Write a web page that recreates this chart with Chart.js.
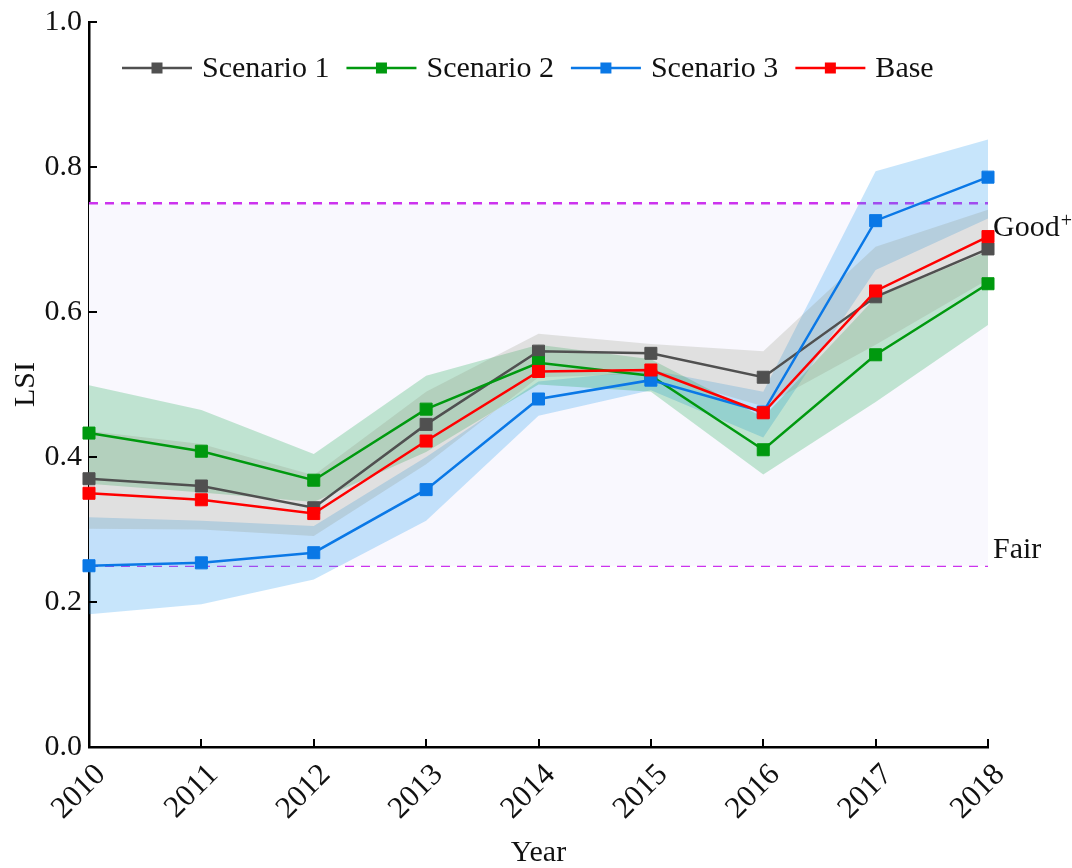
<!DOCTYPE html>
<html>
<head>
<meta charset="utf-8">
<title>LSI scenarios</title>
<script src="https://cdn.jsdelivr.net/npm/chart.js@4.4.1/dist/chart.umd.min.js"></script>
<style>
  html, body { margin: 0; padding: 0; background: #fff; }
</style>
</head>
<body>
<canvas id="lsiChart" width="1072" height="868"></canvas>
<script>
'use strict';

// --- data ---
const YEARS = ['2010', '2011', '2012', '2013', '2014', '2015', '2016', '2017', '2018'];

const SCENARIO1 = [0.370, 0.360, 0.330, 0.445, 0.546, 0.543, 0.510, 0.621, 0.687];
const SCENARIO2 = [0.433, 0.408, 0.368, 0.466, 0.530, 0.512, 0.410, 0.541, 0.639];
const SCENARIO3 = [0.250, 0.254, 0.268, 0.355, 0.480, 0.506, 0.462, 0.726, 0.786];
const BASE      = [0.350, 0.341, 0.322, 0.422, 0.518, 0.520, 0.461, 0.629, 0.704];

// uncertainty bands
const S1_UPPER = [0.436, 0.418, 0.375, 0.490, 0.570, 0.556, 0.546, 0.690, 0.741];
const S1_LOWER = [0.301, 0.300, 0.291, 0.390, 0.510, 0.515, 0.470, 0.555, 0.645];
const S2_UPPER = [0.499, 0.465, 0.404, 0.512, 0.555, 0.535, 0.455, 0.620, 0.684];
const S2_LOWER = [0.363, 0.351, 0.338, 0.407, 0.500, 0.490, 0.376, 0.476, 0.582];
const S3_UPPER = [0.317, 0.312, 0.305, 0.400, 0.504, 0.520, 0.490, 0.794, 0.838];
const S3_LOWER = [0.183, 0.197, 0.231, 0.312, 0.457, 0.492, 0.427, 0.658, 0.729];

const GOOD_LEVEL = 0.75;
const FAIR_LEVEL = 0.25;
const Y_TICKS = [0, 0.2, 0.4, 0.6, 0.8, 1.0];

const SERIF = '"Liberation Serif", "Times New Roman", serif';
const TXT = '#111';

function lineSet(label, data, color, order) {
  return {
    label, data, order, inLegend: true,
    borderColor: color, backgroundColor: color,
    borderWidth: 2.5, tension: 0, fill: false,
    pointStyle: 'rect', pointRadius: 8.5, pointHoverRadius: 8.5,
    pointBorderWidth: 1, pointBorderColor: color, pointBackgroundColor: color,
  };
}

function bandSets(upper, lower, color) {
  return [
    { label: '', data: upper, borderWidth: 0, pointRadius: 0, fill: '+1', backgroundColor: color, order: 20 },
    { label: '', data: lower, borderWidth: 0, pointRadius: 0, fill: false, order: 19 },
  ];
}

function levelSet(level, fill) {
  return {
    label: '',
    data: [{ x: YEARS[0], y: level }, { x: YEARS[YEARS.length - 1], y: level }],
    borderColor: '#cc33ee', borderWidth: 2.4, borderDash: [9, 7],
    pointRadius: 0, fill, backgroundColor: '#f9f8fe', order: 30,
  };
}

// short inward tick marks on both axes
const innerTicks = {
  id: 'innerTicks',
  afterDatasetsDraw(chart) {
    const { ctx, chartArea, scales } = chart;
    ctx.save();
    ctx.strokeStyle = '#000';
    ctx.lineWidth = 2;
    ctx.beginPath();
    Y_TICKS.forEach(v => {
      const py = Math.round(scales.y.getPixelForValue(v));
      ctx.moveTo(chartArea.left, py);
      ctx.lineTo(chartArea.left + 8, py);
    });
    YEARS.forEach((_, i) => {
      const px = Math.round(scales.x.getPixelForValue(i));
      ctx.moveTo(px, chartArea.bottom);
      ctx.lineTo(px, chartArea.bottom - 8);
    });
    ctx.stroke();
    ctx.restore();
  },
};

// legend drawn inside the plot: line + square marker
const insideLegend = {
  id: 'insideLegend',
  afterDraw(chart) {
    const { ctx, chartArea } = chart;
    const y = chartArea.top + 46;
    let x = chartArea.left + 33;
    ctx.save();
    ctx.font = '30px ' + SERIF;
    ctx.textBaseline = 'middle';
    chart.data.datasets.filter(d => d.inLegend).forEach(d => {
      ctx.strokeStyle = d.borderColor;
      ctx.lineWidth = 2.5;
      ctx.beginPath();
      ctx.moveTo(x, y);
      ctx.lineTo(x + 70, y);
      ctx.stroke();
      ctx.fillStyle = d.borderColor;
      ctx.fillRect(x + 35 - 5.5, y - 5.5, 11, 11);
      ctx.fillStyle = TXT;
      ctx.fillText(d.label, x + 80, y + 1);
      x += 80 + ctx.measureText(d.label).width + 17;
    });
    ctx.restore();
  },
};

// "Good+" and "Fair" labels right of the plot
const levelLabels = {
  id: 'levelLabels',
  afterDraw(chart) {
    const { ctx, chartArea, scales } = chart;
    const x = chartArea.right + 5;
    const goodY = scales.y.getPixelForValue(GOOD_LEVEL) + 33;
    const fairY = scales.y.getPixelForValue(FAIR_LEVEL) - 8;
    ctx.save();
    ctx.fillStyle = TXT;
    ctx.textBaseline = 'alphabetic';
    ctx.font = '30px ' + SERIF;
    ctx.fillText('Good', x, goodY);
    const w = ctx.measureText('Good').width;
    ctx.font = '20px ' + SERIF;
    ctx.fillText('+', x + w + 1, goodY - 9);
    ctx.font = '30px ' + SERIF;
    ctx.fillText('Fair', x, fairY);
    ctx.restore();
  },
};

const font30 = { family: SERIF, size: 30, lineHeight: 1 };

new Chart(document.getElementById('lsiChart').getContext('2d'), {
  type: 'line',
  data: {
    labels: YEARS,
    datasets: [
      lineSet('Scenario 1', SCENARIO1, '#505050', 3),
      lineSet('Scenario 2', SCENARIO2, '#00990f', 2),
      lineSet('Scenario 3', SCENARIO3, '#0a78e6', 1),
      lineSet('Base', BASE, '#ff0000', 0),
      ...bandSets(S1_UPPER, S1_LOWER, 'rgba(135,140,118,0.22)'),
      ...bandSets(S2_UPPER, S2_LOWER, 'rgba(0,160,60,0.23)'),
      ...bandSets(S3_UPPER, S3_LOWER, 'rgba(30,150,240,0.25)'),
      levelSet(GOOD_LEVEL, '+1'),
      levelSet(FAIR_LEVEL, false),
    ],
  },
  options: {
    responsive: false,
    animation: false,
    events: [],
    layout: { padding: { top: 19, right: 84, left: 0, bottom: 0 } },
    plugins: { legend: { display: false }, tooltip: { enabled: false } },
    scales: {
      x: {
        type: 'category',
        offset: false,
        ticks: { font: { family: SERIF, size: 31 }, color: TXT, minRotation: 45, maxRotation: 45, padding: 10, labelOffset: 12, autoSkip: false },
        grid: { drawOnChartArea: false, drawTicks: false, offset: false },
        border: { color: '#000', width: 2.5 },
        title: { display: true, text: 'Year', font: font30, color: TXT, padding: 0 },
        afterFit: s => { s.height = 121; },
      },
      y: {
        min: 0, max: 1,
        afterBuildTicks: s => { s.ticks = Y_TICKS.map(v => ({ value: v })); },
        ticks: { font: font30, color: TXT, padding: 7, callback: v => v.toFixed(1) },
        grid: { drawOnChartArea: false, drawTicks: false },
        border: { color: '#000', width: 2.5 },
        title: { display: true, text: 'LSI', font: font30, color: TXT, padding: { top: 11, bottom: 0 } },
        afterFit: s => { s.width = 89; },
      },
    },
  },
  plugins: [innerTicks, insideLegend, levelLabels],
});
</script>
</body>
</html>
